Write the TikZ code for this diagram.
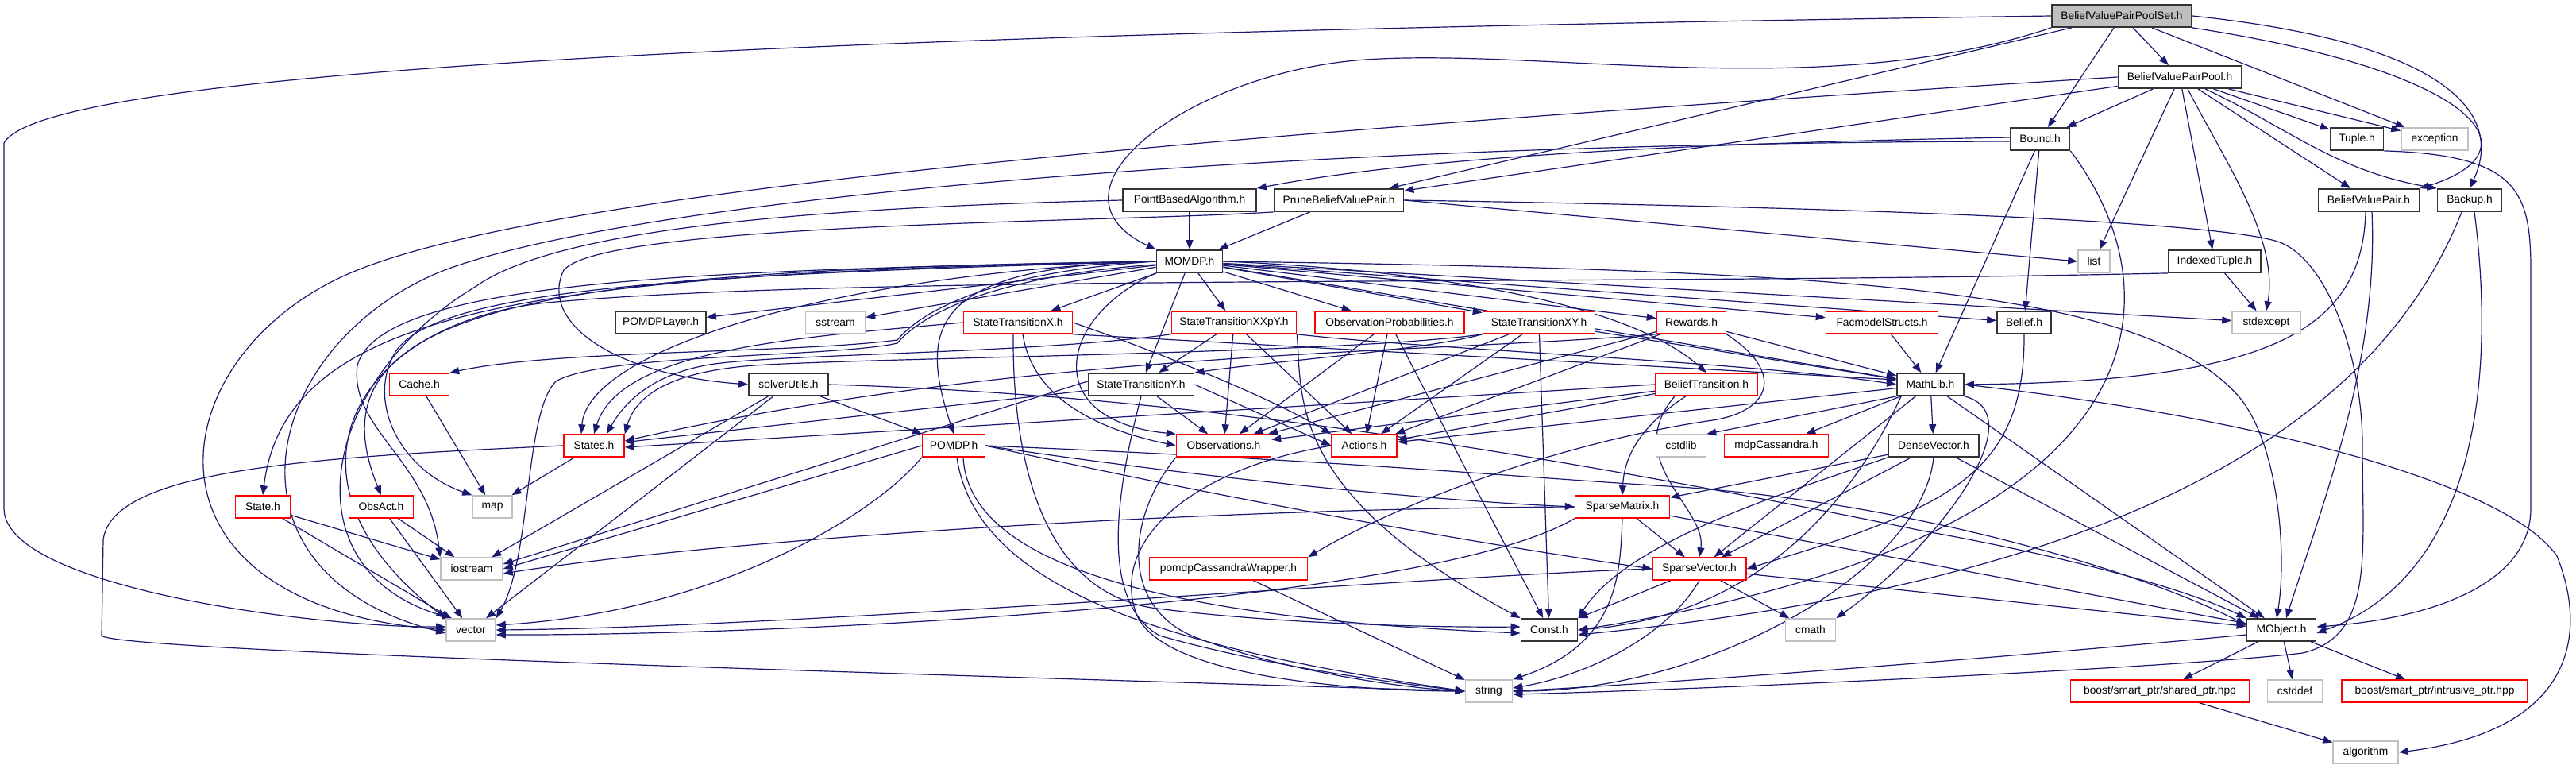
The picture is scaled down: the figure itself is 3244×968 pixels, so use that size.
\documentclass[tikz,border=0pt]{standalone}
\usepackage{fontspec}
\setmainfont{Liberation Sans}
\usetikzlibrary{arrows.meta}
\pgfdeclarelayer{bg}
\pgfsetlayers{bg,main}
\definecolor{eblue}{HTML}{191970}
\definecolor{ngray}{HTML}{BFBFBF}
\definecolor{nred}{HTML}{FF0000}
\newcommand\nodefnt{\fontsize{13.8}{16}\selectfont}
\tikzset{
 nbox/.style={draw=black!80, line width=1.8pt, fill=white, minimum height=28pt, inner sep=0pt, font=\nodefnt},
 rbox/.style={nbox, draw=nred, line width=1.5pt},
 gbox/.style={nbox, draw=ngray, line width=1.5pt},
 edg/.style={draw=eblue, line width=1.2pt, -{Triangle[length=12pt,width=9pt]}},
}
\begin{document}
\begin{tikzpicture}[x=1pt,y=-1pt]
\useasboundingbox (0,0) rectangle (3244,968);
% nodes
\node[nbox,fill=ngray,minimum width=176pt] (poolset) at (2672,20) {BeliefValuePairPoolSet.h};
\node[nbox,minimum width=155pt] (pool) at (2745,97) {BeliefValuePairPool.h};
\node[nbox,minimum width=75pt] (bound) at (2569,175) {Bound.h};
\node[nbox,minimum width=67pt] (tuple) at (2968,175) {Tuple.h};
\node[gbox,minimum width=84pt] (exception) at (3066,175) {exception};
\node[nbox,minimum width=168pt] (pba) at (1498,252) {PointBasedAlgorithm.h};
\node[nbox,minimum width=163pt] (prune) at (1686,252) {PruneBeliefValuePair.h};
\node[nbox,minimum width=127pt] (bvp) at (2983,252) {BeliefValuePair.h};
\node[nbox,minimum width=81pt] (backup) at (3110,252) {Backup.h};
\node[nbox,minimum width=83pt] (momdp) at (1498,329) {MOMDP.h};
\node[gbox,minimum width=40pt] (list) at (2637,329) {list};
\node[nbox,minimum width=116pt] (indexed) at (2789,329) {IndexedTuple.h};
\node[nbox,minimum width=114pt] (pomdplayer) at (832,406) {POMDPLayer.h};
\node[gbox,minimum width=75pt] (sstream) at (1052,406) {sstream};
\node[rbox,minimum width=137pt] (stx) at (1282,406) {StateTransitionX.h};
\node[rbox,minimum width=157pt] (stxxpy) at (1554,406) {StateTransitionXXpY.h};
\node[rbox,minimum width=188pt] (obsprob) at (1750,406) {ObservationProbabilities.h};
\node[rbox,minimum width=141pt] (stxy) at (1938,406) {StateTransitionXY.h};
\node[rbox,minimum width=87pt] (rewards) at (2130,406) {Rewards.h};
\node[rbox,minimum width=141pt] (facmodel) at (2370,406) {FacmodelStructs.h};
\node[nbox,minimum width=68pt] (belief) at (2549,406) {Belief.h};
\node[gbox,minimum width=86pt] (stdexcept) at (2854,406) {stdexcept};
\node[rbox,minimum width=75pt] (cache) at (528,484) {Cache.h};
\node[nbox,minimum width=100pt] (solver) at (993,484) {solverUtils.h};
\node[nbox,minimum width=133pt] (sty) at (1437,484) {StateTransitionY.h};
\node[rbox,minimum width=128pt] (belieftrans) at (2149,484) {BeliefTransition.h};
\node[nbox,minimum width=84pt] (mathlib) at (2431,484) {MathLib.h};
\node[rbox,minimum width=76pt] (states) at (748,561) {States.h};
\node[rbox,minimum width=79pt] (pomdp) at (1201,561) {POMDP.h};
\node[rbox,minimum width=119pt] (observations) at (1541,561) {Observations.h};
\node[rbox,minimum width=82pt] (actions) at (1718,561) {Actions.h};
\node[gbox,minimum width=63pt] (cstdlib) at (2117,561) {cstdlib};
\node[rbox,minimum width=131pt] (mdpcass) at (2237,561) {mdpCassandra.h};
\node[nbox,minimum width=114pt] (dense) at (2435,561) {DenseVector.h};
\node[rbox,minimum width=69pt] (state) at (331,638) {State.h};
\node[rbox,minimum width=81pt] (obsact) at (480,638) {ObsAct.h};
\node[gbox,minimum width=50pt] (map) at (620,638) {map};
\node[rbox,minimum width=119pt] (sparsematrix) at (2043,638) {SparseMatrix.h};
\node[gbox,minimum width=78pt] (iostream) at (594,716) {iostream};
\node[rbox,minimum width=199pt] (wrapper) at (1547,716) {pomdpCassandraWrapper.h};
\node[rbox,minimum width=118pt] (sparsevector) at (2140,716) {SparseVector.h};
\node[gbox,minimum width=62pt] (vector) at (593,793) {vector};
\node[nbox,minimum width=71pt] (const) at (1951,793) {Const.h};
\node[gbox,minimum width=63pt] (cmath) at (2280,793) {cmath};
\node[nbox,minimum width=87pt] (mobject) at (2873,793) {MObject.h};
\node[gbox,minimum width=59pt] (string) at (1875,870) {string};
\node[rbox,minimum width=225pt] (shared) at (2720,870) {boost/smart\_ptr/shared\_ptr.hpp};
\node[gbox,minimum width=69pt] (cstddef) at (2890,870) {cstddef};
\node[rbox,minimum width=234pt] (intrusive) at (3066,870) {boost/smart\_ptr/intrusive\_ptr.hpp};
\node[gbox,minimum width=82pt] (algorithm) at (2979,947) {algorithm};
\begin{pgfonlayer}{bg}
\fill[white] (0,0) rectangle (3244,968);
% root
\draw[edg] (poolset.west) .. controls (1200,40) and (60,80) .. (5,180) -- (5,640) .. controls (5,740) and (400,790) .. ([yshift=4pt]vector.west);
\draw[edg] (poolset.south west) .. controls (2300,130) and (1950,60) .. (1720,75) .. controls (1500,90) and (1300,240) .. (momdp.north west);
\draw[edg] (poolset) -- (prune);
\draw[edg] (poolset) -- (bound);
\draw[edg] (poolset) -- (pool);
\draw[edg] (poolset) -- (exception);
\draw[edg] (poolset.south east) .. controls (3120,90) and (3200,190) .. (bvp.north east);
\draw[edg] (poolset.east) .. controls (3050,50) and (3160,130) .. (backup.north);
% pool
\draw[edg] (pool) -- (bound);
\draw[edg] (pool) -- (list);
\draw[edg] (pool) -- (indexed);
\draw[edg] ([xshift=10pt]pool.south) .. controls (2800,200) and (2870,300) .. (stdexcept.north);
\draw[edg] (pool) -- (bvp);
\draw[edg] (pool) .. controls (2880,160) and (2940,215) .. (backup.north west);
\draw[edg] (pool) -- (tuple);
\draw[edg] (pool) -- (exception);
\draw[edg] (pool) -- (prune);
\draw[edg] (pool.west) .. controls (1500,170) and (700,240) .. (450,340) .. controls (200,440) and (150,760) .. (vector.west);
% bound
\draw[edg] ([yshift=2pt]bound.west) .. controls (2150,180) and (1800,195) .. (pba.north east);
\draw[edg] ([yshift=-3pt]bound.west) .. controls (1600,180) and (800,250) .. (560,340) .. controls (330,430) and (260,720) .. ([yshift=-4pt]vector.west);
\draw[edg] (bound) -- (mathlib);
\draw[edg] (bound) -- (belief);
\draw[edg] (bound.south east) .. controls (2750,380) and (2720,680) .. (const.east);
% tuple, bvp, backup, indexed
\draw[edg] (tuple.south east) .. controls (3170,195) and (3187,240) .. (3187,340) -- (3187,640) .. controls (3187,740) and (3050,780) .. ([yshift=4pt]mobject.east);
\draw[edg] ([xshift=-4pt]bvp.south) .. controls (2975,420) and (2850,480) .. (mathlib.east);
\draw[edg] ([xshift=4pt]bvp.south) .. controls (2995,450) and (2930,620) .. ([xshift=6pt]mobject.north);
\draw[edg] ([xshift=6pt]backup.south) .. controls (3140,450) and (3130,720) .. ([yshift=-4pt]mobject.east);
\draw[edg] ([xshift=-10pt]backup.south) .. controls (3000,520) and (2700,730) .. ([yshift=-6pt]const.east);
\draw[edg] (indexed) -- (stdexcept);
\draw[edg] (indexed.south west) .. controls (2000,360) and (1100,345) .. (700,380) .. controls (450,400) and (330,600) .. (vector.north west);
% pba
\draw[edg] (pba) -- (momdp);
\draw[edg] (pba.west) .. controls (1000,262) and (700,290) .. (600,360) .. controls (400,480) and (360,720) .. ([xshift=8pt]vector.north west);
% prune
\draw[edg] (prune) -- (momdp);
\draw[edg] (prune.east) -- (list.west);
\draw[edg] (prune.east) .. controls (2400,262) and (2780,280) .. (2865,303) .. controls (2930,321) and (2975,450) .. (2975,560) .. controls (2975,700) and (2990,800) .. (2900,822) .. controls (2750,840) and (2150,868) .. ([yshift=-4pt]string.east);
\draw[edg] (prune.south west) .. controls (1400,280) and (760,280) .. (710,340) .. controls (680,400) and (760,470) .. (solver.west);
% momdp
\draw[edg] (momdp) -- (pomdplayer);
\draw[edg] (momdp) -- (sstream);
\draw[edg] (momdp) -- (stx);
\draw[edg] (momdp) -- (stxxpy);
\draw[edg] (momdp) -- (obsprob);
\draw[edg] (momdp) -- (stxy);
\draw[edg] (momdp) -- (rewards);
\draw[edg] (momdp) -- (facmodel);
\draw[edg] (momdp) -- (belief);
\draw[edg] (momdp) -- (stdexcept);
\draw[edg] (momdp) -- (mathlib);
\draw[edg] (momdp.east) .. controls (1800,340) and (2050,380) .. (belieftrans.north);
\draw[edg] (momdp) -- (sty);
\draw[edg] (momdp.south west) .. controls (1330,400) and (1310,530) .. (observations.north west);
\draw[edg] (momdp.west) .. controls (1160,335) and (1160,420) .. (pomdp.north);
\draw[edg] (momdp.west) .. controls (1050,345) and (740,440) .. ([xshift=-16pt]states.north);
\draw[edg] (momdp.west) .. controls (1280,340) and (1170,380) .. (1130,428) .. controls (1000,445) and (700,440) .. (cache.north east);
\draw[edg] (momdp.west) .. controls (700,345) and (360,380) .. (state.north);
\draw[edg] (momdp.west) .. controls (700,340) and (380,380) .. (obsact.north);
\draw[edg] (momdp.west) .. controls (900,345) and (560,360) .. (500,440) .. controls (460,500) and (500,590) .. (map.north west);
\draw[edg] (momdp.west) .. controls (900,340) and (480,350) .. (450,460) .. controls (440,540) and (540,580) .. (iostream.north west);
\draw[edg] ([yshift=-4pt]momdp.west) .. controls (1280,345) and (1170,385) .. (1130,432) .. controls (1050,450) and (760,445) .. (700,480) .. controls (660,520) and (670,700) .. (vector.north east);
\draw[edg] (momdp.east) .. controls (2300,340) and (2700,360) .. (2820,500) .. controls (2870,560) and (2880,700) .. ([xshift=-6pt]mobject.north);
% stx
\draw[edg] (stx.west) .. controls (1000,425) and (780,440) .. (states.north);
\draw[edg] ([xshift=6pt]stx.south) .. controls (1300,500) and (1380,540) .. (observations.west);
\draw[edg] (stx.east) .. controls (1450,440) and (1600,500) .. (actions.north west);
\draw[edg] (stx.south east) -- ([yshift=6pt]mathlib.west);
\draw[edg] ([xshift=-6pt]stx.south) .. controls (1275,550) and (1300,740) .. (1450,765) .. controls (1600,785) and (1800,790) .. ([yshift=4pt]const.west);
% stxxpy
\draw[edg] (stxxpy.south west) .. controls (1300,445) and (1000,445) .. (900,458) .. controls (830,468) and (790,500) .. ([xshift=16pt]states.north);
\draw[edg] (stxxpy) -- (sty);
\draw[edg] (stxxpy) -- (observations);
\draw[edg] (stxxpy) -- (actions);
\draw[edg] (stxxpy.south east) .. controls (1800,440) and (2200,455) .. (mathlib.west);
\draw[edg] (stxxpy.south east) .. controls (1640,500) and (1620,620) .. (const.north west);
% obsprob
\draw[edg] (obsprob) -- (observations);
\draw[edg] (obsprob) -- (actions);
\draw[edg] (obsprob) -- (const);
% stxy
\draw[edg] (stxy.south west) .. controls (1700,445) and (1100,450) .. (950,460) .. controls (840,468) and (800,500) .. (states.north east);
\draw[edg] (stxy.south west) .. controls (1800,440) and (1600,455) .. (sty.north east);
\draw[edg] (stxy) -- (observations);
\draw[edg] (stxy) -- (actions);
\draw[edg] (stxy) -- (mathlib);
\draw[edg] (stxy) -- (const);
% rewards
\draw[edg] (rewards.south west) .. controls (1800,445) and (1300,440) .. ([yshift=6pt]states.east);
\draw[edg] (rewards) -- (observations);
\draw[edg] (rewards) -- (actions);
\draw[edg] (rewards) -- (mathlib);
\draw[edg] (rewards.south east) .. controls (2250,470) and (2230,520) .. (2150,530) .. controls (1950,560) and (1750,640) .. (wrapper.north east);
\draw[edg] (facmodel) -- (mathlib);
% belieftrans
\draw[edg] (belieftrans.west) -- ([yshift=-2pt]states.east);
\draw[edg] (belieftrans) -- (observations);
\draw[edg] (belieftrans) -- (actions);
\draw[edg] ([xshift=-26pt]belieftrans.south) .. controls (2060,540) and (2045,580) .. (sparsematrix.north);
\draw[edg] ([xshift=-40pt]belieftrans.south) .. controls (2040,580) and (2150,640) .. (sparsevector.north);
% sty
\draw[edg] (sty) -- (states);
\draw[edg] (sty) -- (observations);
\draw[edg] (sty.east) -- (actions.west);
\draw[edg] ([yshift=4pt]sty.west) -- ([yshift=6pt]iostream.east);
\draw[edg] (sty.south) .. controls (1400,640) and (1390,760) .. (1460,800) .. controls (1600,840) and (1760,860) .. (string.west);
% belief
\draw[edg] (belief.south) .. controls (2550,600) and (2450,640) .. (sparsevector.east);
% mathlib
\draw[edg] (mathlib.south west) -- (cstdlib.north east);
\draw[edg] (mathlib) -- (mdpcass);
\draw[edg] (mathlib) -- (dense);
\draw[edg] (mathlib) -- (sparsevector);
\draw[edg] (mathlib) -- (mobject);
\draw[edg] (mathlib) -- (actions);
\draw[edg] (mathlib.south east) .. controls (2560,520) and (2450,680) .. (cmath.north east);
\draw[edg] (mathlib.east) .. controls (2800,520) and (3150,600) .. (3220,700) .. controls (3260,800) and (3240,920) .. (algorithm.east);
\draw[edg] ([xshift=6pt]mathlib.south west) .. controls (2300,700) and (2150,780) .. (const.east);
% dense
\draw[edg] (dense) -- (sparsematrix);
\draw[edg] (dense) -- (sparsevector);
\draw[edg] (dense.south west) .. controls (2250,620) and (2050,680) .. (const.north east);
\draw[edg] (dense) -- (mobject);
\draw[edg] (dense.south) .. controls (2420,720) and (2150,870) .. (string.east);
% sparsematrix
\draw[edg] (sparsematrix) -- (sparsevector);
\draw[edg] (sparsematrix.south) .. controls (2040,720) and (2040,810) .. (string.north east);
\draw[edg] (sparsematrix.south west) .. controls (1800,760) and (1000,800) .. ([yshift=-6pt]vector.east);
\draw[edg] (sparsematrix.west) .. controls (1500,640) and (900,680) .. ([yshift=-6pt]iostream.east);
\draw[edg] (sparsematrix) -- (mobject);
% sparsevector
\draw[edg] (sparsevector) -- (const);
\draw[edg] (sparsevector.south) .. controls (2100,800) and (2000,850) .. ([yshift=4pt]string.east);
\draw[edg] (sparsevector) -- (cmath);
\draw[edg] (sparsevector) -- (mobject);
\draw[edg] (sparsevector.west) .. controls (1800,725) and (1000,790) .. (vector.east);
% mobject
\draw[edg] ([yshift=-6pt]mobject.west) .. controls (2500,830) and (2100,860) .. (string.east);
\draw[edg] (mobject) -- (shared);
\draw[edg] (mobject) -- (cstddef);
\draw[edg] (mobject) -- (intrusive);
\draw[edg] (shared) -- (algorithm);
% left cluster
\draw[edg] (cache) -- (map);
\draw[edg] (states) -- (map);
\draw[edg] (states.west) .. controls (400,575) and (140,590) .. (130,680) -- (128,800) .. controls (140,820) and (1200,850) .. (string.west);
\draw[edg] (state) -- (iostream);
\draw[edg] (state) -- (vector);
\draw[edg] (obsact) -- (iostream);
\draw[edg] (obsact) -- (vector);
% solver
\draw[edg] (solver) -- (pomdp);
\draw[edg] (solver) -- (iostream);
\draw[edg] (solver) -- (vector);
\draw[edg] (solver.east) .. controls (1400,495) and (1800,540) .. (2420,668) .. controls (2600,700) and (2750,740) .. (mobject.north west);
% pomdp
\draw[edg] (pomdp.west) -- (iostream.east);
\draw[edg] (pomdp.south west) .. controls (1100,650) and (900,770) .. ([yshift=6pt]vector.east);
\draw[edg] ([xshift=4pt]pomdp.south) .. controls (1230,750) and (1500,820) .. (string.west);
\draw[edg] ([xshift=12pt]pomdp.south) .. controls (1220,720) and (1500,780) .. ([yshift=-4pt]const.west);
\draw[edg] (pomdp.east) .. controls (1500,600) and (1800,630) .. (sparsematrix.west);
\draw[edg] (pomdp.east) .. controls (1600,640) and (1900,690) .. (sparsevector.west);
\draw[edg] (pomdp.east) .. controls (1700,580) and (1900,600) .. (2100,612) .. controls (2400,630) and (2700,720) .. ([yshift=6pt]mobject.west);
% observations, actions, wrapper
\draw[edg] (observations.south west) .. controls (1420,650) and (1410,760) .. (1500,800) .. controls (1600,840) and (1750,865) .. (string.west);
\draw[edg] (actions.west) .. controls (1500,590) and (1400,680) .. (1430,770) .. controls (1460,860) and (1750,870) .. (string.west);
\draw[edg] (wrapper) -- (string);
\end{pgfonlayer}
\end{tikzpicture}
\end{document}
